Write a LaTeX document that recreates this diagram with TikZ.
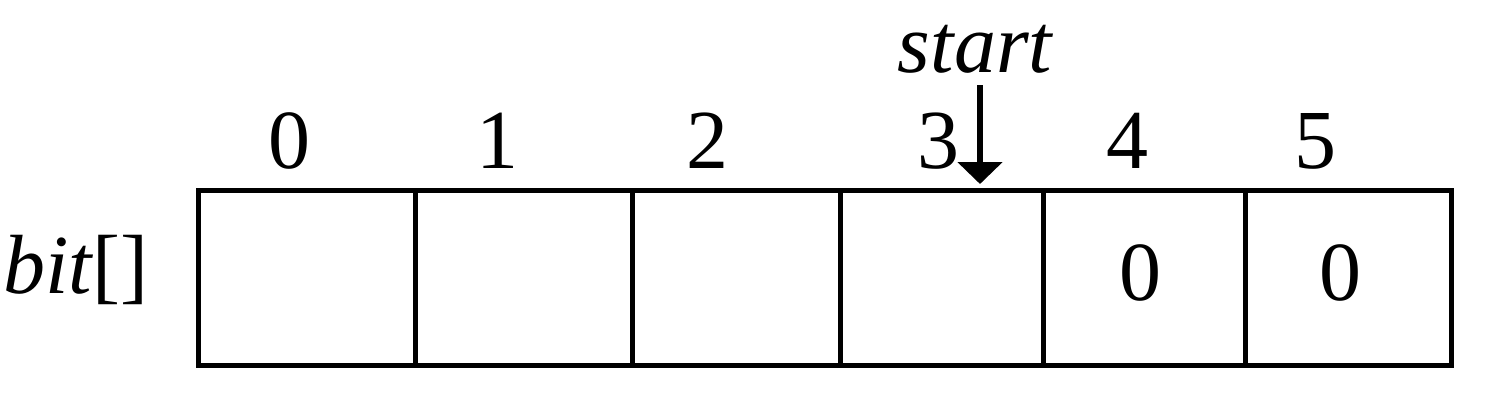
\documentclass[tikz,border=0pt]{standalone}
\usepackage{fontspec}
\setmainfont{Liberation Serif}
\usetikzlibrary{arrows.meta}
\begin{document}
\begin{tikzpicture}[x=0.5pt,y=-0.5pt,
  cell/.style={draw,line width=2.6pt,minimum height=87.5pt,inner sep=0pt,anchor=north west},
  lbl/.style={font=\fontsize{42}{50}\selectfont,inner sep=0pt,anchor=base},
  pointer/.style={line width=3pt,-{Triangle[width=22pt,length=11pt]}}]
\useasboundingbox (0,0) rectangle (1500,408);
\node[cell,minimum width=108.5pt] (c0) at (196,188) {};
\node[cell,minimum width=108.5pt] (c1) at (413,188) {};
\node[cell,minimum width=104pt] (c2) at (630,188) {};
\node[cell,minimum width=101.5pt] (c3) at (838,188) {};
\node[cell,minimum width=101pt] (c4) at (1041,188) {};
\node[cell,minimum width=103pt] (c5) at (1243,188) {};
\node[lbl] (i0) at (289,168) {0};
\node[lbl] (i1) at (497,168) {1};
\node[lbl] (i2) at (707,168) {2};
\node[lbl] (i3) at (938,168) {3};
\node[lbl] (i4) at (1127,168) {4};
\node[lbl] (i5) at (1315,168) {5};
\node[lbl] (v4) at (1140,300) {0};
\node[lbl] (v5) at (1340,300) {0};
\node[lbl,anchor=base west] (bit) at (3,293) {\itshape bit\upshape[]};
\node[lbl] (start) at (975,72) {\itshape start};
\coordinate (tip) at (980,184);
\draw[pointer] (980,85) -- (tip);
\end{tikzpicture}
\end{document}
